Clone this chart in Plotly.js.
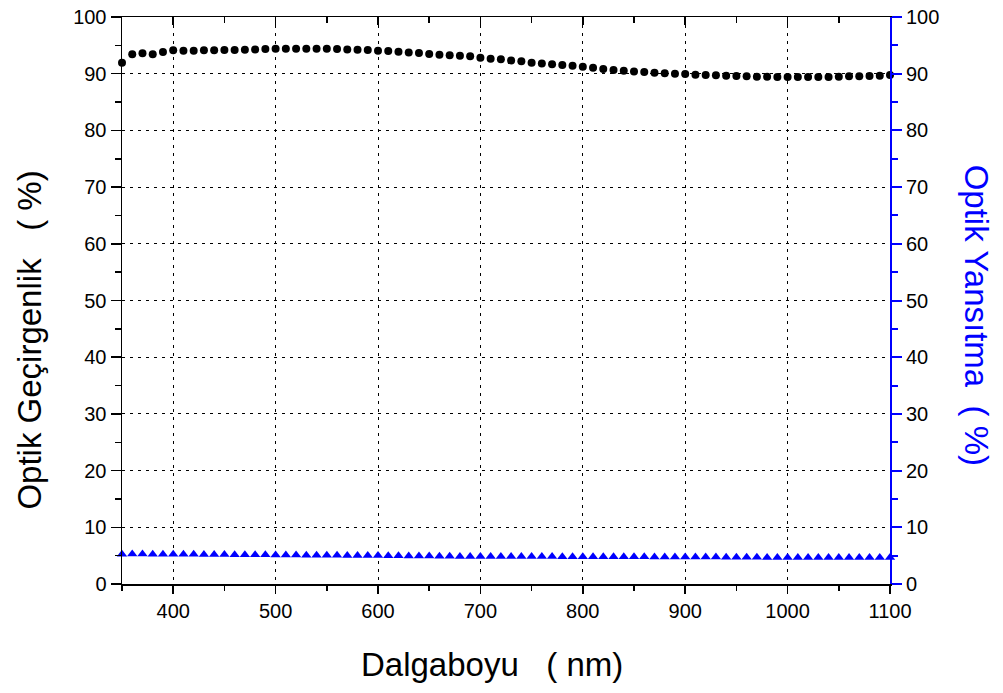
<!DOCTYPE html>
<html>
<head>
<meta charset="utf-8">
<script src="https://cdn.plot.ly/plotly-3.0.1.min.js"></script>
<style>html,body{margin:0;padding:0;background:#fff;}</style>
</head>
<body>
<div id="chart" style="width:1003px;height:693px;"></div>
<script>
var wavelength = [350,360,370,380,390,400,410,420,430,440,450,460,470,480,490,500,510,520,530,540,550,560,570,580,590,600,610,620,630,640,650,660,670,680,690,700,710,720,730,740,750,760,770,780,790,800,810,820,830,840,850,860,870,880,890,900,910,920,930,940,950,960,970,980,990,1000,1010,1020,1030,1040,1050,1060,1070,1080,1090,1100];

var transmittance = [91.94,93.41,93.59,93.41,93.82,94.12,94.06,94.06,94.12,94.12,94.18,94.18,94.24,94.29,94.35,94.41,94.41,94.41,94.41,94.41,94.41,94.35,94.29,94.24,94.18,94.06,94.0,93.88,93.76,93.65,93.47,93.35,93.24,93.18,93.06,92.82,92.65,92.53,92.35,92.18,91.94,91.82,91.65,91.53,91.41,91.24,91.06,90.82,90.65,90.53,90.41,90.29,90.18,90.06,90.0,89.94,89.82,89.76,89.71,89.65,89.59,89.53,89.47,89.47,89.41,89.41,89.41,89.41,89.41,89.41,89.47,89.53,89.53,89.59,89.65,89.76];

var reflectance = [5.26,5.27,5.27,5.26,5.26,5.25,5.24,5.23,5.21,5.20,5.19,5.18,5.16,5.15,5.14,5.13,5.12,5.10,5.09,5.08,5.07,5.06,5.04,5.03,5.02,5.01,4.99,4.97,4.96,4.94,4.92,4.90,4.89,4.87,4.86,4.85,4.85,4.84,4.84,4.84,4.83,4.83,4.83,4.82,4.82,4.82,4.81,4.81,4.80,4.80,4.79,4.79,4.78,4.78,4.77,4.77,4.76,4.75,4.74,4.73,4.72,4.71,4.70,4.69,4.68,4.67,4.67,4.66,4.66,4.66,4.66,4.66,4.66,4.66,4.66,4.66];

var xTitle = 'Dalgaboyu\u00a0\u00a0\u00a0( nm)';
var yTitleLeft = 'Optik Geçirgenlik\u00a0\u00a0\u00a0( %)';
var yTitleRight = 'Optik Yansıtma\u00a0\u00a0( %)';

var FONT = 'Liberation Sans, Arial, sans-serif';

var traces = [
  {
    x: wavelength, y: transmittance, type: 'scatter', mode: 'markers',
    marker: {symbol: 'circle', size: 8, color: '#000000'},
    xaxis: 'x', yaxis: 'y', cliponaxis: false, name: 'T'
  },
  {
    x: wavelength, y: reflectance, type: 'scatter', mode: 'markers',
    marker: {symbol: 'triangle-up', size: 9, color: '#0000ff'},
    xaxis: 'x2', yaxis: 'y2', cliponaxis: false, name: 'R'
  }
];

var layout = {
  width: 1003, height: 693,
  margin: {l: 122, r: 113, t: 17, b: 109, pad: 0},
  paper_bgcolor: '#ffffff', plot_bgcolor: '#ffffff',
  showlegend: false,
  font: {family: FONT, color: '#000000', size: 20},
  xaxis: {
    range: [350, 1100], tick0: 0, dtick: 100,
    ticks: 'outside', ticklen: 8, tickwidth: 1.5, tickcolor: '#000',
    showline: true, linecolor: '#000', linewidth: 1.5,
    showgrid: true, gridcolor: '#000', gridwidth: 1, griddash: '3px,5px',
    zeroline: false,
    tickfont: {family: FONT, size: 20, color: '#000'},
    minor: {dtick: 50, tick0: 0, ticks: 'outside', ticklen: 5, tickwidth: 1.5, tickcolor: '#000', showgrid: false},
    anchor: 'y'
  },
  xaxis2: {
    range: [350, 1100], tick0: 0, dtick: 100, overlaying: 'x', side: 'top', anchor: 'y',
    ticks: 'inside', ticklen: 8, tickwidth: 1.5, tickcolor: '#000',
    showline: true, linecolor: '#000', linewidth: 1.5,
    showgrid: false, zeroline: false, showticklabels: false,
    minor: {dtick: 50, tick0: 0, ticks: 'inside', ticklen: 6, tickwidth: 1.5, tickcolor: '#000', showgrid: false}
  },
  yaxis: {
    range: [0, 100], tick0: 0, dtick: 10,
    ticks: 'outside', ticklen: 10, tickwidth: 1.5, tickcolor: '#000',
    showline: true, linecolor: '#000', linewidth: 1.5,
    showgrid: true, gridcolor: '#000', gridwidth: 1, griddash: '3px,5px',
    zeroline: false,
    tickfont: {family: FONT, size: 20, color: '#000'},
    minor: {dtick: 5, tick0: 0, ticks: 'outside', ticklen: 6, tickwidth: 1.5, tickcolor: '#000', showgrid: false},
    anchor: 'x'
  },
  yaxis2: {
    range: [0, 100], tick0: 0, dtick: 10, overlaying: 'y', side: 'right', anchor: 'x',
    ticks: 'outside', ticklen: 10, tickwidth: 2, tickcolor: '#0000ff',
    showline: true, linecolor: '#0000ff', linewidth: 2,
    showgrid: false, zeroline: false,
    tickfont: {family: FONT, size: 20, color: '#000'},
    minor: {dtick: 5, tick0: 0, ticks: 'outside', ticklen: 6, tickwidth: 2, tickcolor: '#0000ff', showgrid: false}
  },
  annotations: [
    {text: xTitle, xref: 'paper', yref: 'paper', x: 0.482, y: -0.1426, xanchor: 'center', yanchor: 'middle',
     showarrow: false, font: {family: FONT, size: 33, color: '#000'}},
    {text: yTitleLeft, xref: 'paper', yref: 'paper', x: -0.1198, y: 0.431, xanchor: 'center', yanchor: 'middle',
     textangle: -90, showarrow: false, font: {family: FONT, size: 33, color: '#000'}},
    {text: yTitleRight, xref: 'paper', yref: 'paper', x: 1.112, y: 0.475, xanchor: 'center', yanchor: 'middle',
     textangle: 90, showarrow: false, font: {family: FONT, size: 33, color: '#0000ff'}}
  ]
};

Plotly.newPlot('chart', traces, layout, {displayModeBar: false, staticPlot: true});
</script>
</body>
</html>
